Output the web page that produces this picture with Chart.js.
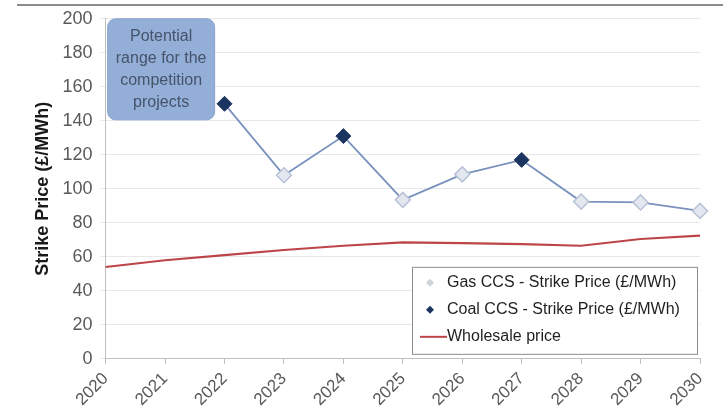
<!DOCTYPE html>
<html>
<head>
<meta charset="utf-8">
<script src="https://cdn.jsdelivr.net/npm/chart.js@4.4.1/dist/chart.umd.min.js"></script>
<style>
  html, body { margin: 0; padding: 0; background: #fff; }
  #wrap { position: relative; width: 723px; height: 415px; }
  #topRule { position: absolute; left: 17px; right: 0; top: 4px; border-top: 2px solid #8c8c8c; }
</style>
</head>
<body>
<div id="wrap">
  <div id="topRule"></div>
  <canvas id="strikeChart" width="723" height="415"></canvas>
</div>
<script>
// ---- data ----
const years = ["2020", "2021", "2022", "2023", "2024", "2025", "2026", "2027", "2028", "2029", "2030"];
const gasStrike = [null, null, null, 108, null, 93.5, 108.5, null, 92.5, 92, 87];
const coalStrike = [null, null, 150, null, 131, null, null, 117, null, null, null];
const wholesale = [54, 58, 61, 64, 66.5, 68.5, 68, 67.5, 66.5, 70.5, 72.5];
const yTicks = { min: 0, max: 200, step: 20 };
const noteLines = ["Potential", "range for the", "competition", "projects"];

// the blue line runs through every strike price, gas or coal
const strikePath = years.map((_, i) => gasStrike[i] ?? coalStrike[i]);

const FONT = "'Liberation Sans', Arial, sans-serif";

const noteBoxPlugin = {
  id: "noteBox",
  afterDatasetsDraw(chart) {
    const { ctx, chartArea } = chart;
    const x = chartArea.left + 2;
    const y = chartArea.top;
    const w = 107;
    const h = 101;
    ctx.save();
    ctx.fillStyle = "#93afd8";
    ctx.strokeStyle = "#86a3cf";
    ctx.beginPath();
    ctx.roundRect(x, y, w, h, 8);
    ctx.fill();
    ctx.stroke();
    ctx.fillStyle = "#46536a";
    ctx.font = "16px " + FONT;
    ctx.textAlign = "center";
    ctx.textBaseline = "middle";
    noteLines.forEach((line, i) => ctx.fillText(line, x + w / 2, y + 18 + i * 22));
    ctx.restore();
  }
};

const boxLegendPlugin = {
  id: "boxLegend",
  afterDraw(chart) {
    const { ctx, chartArea, data } = chart;
    const right = chartArea.right - 3;
    const bottom = chartArea.bottom - 5;
    const w = 285;
    const h = 87;
    const left = right - w;
    const top = bottom - h;
    ctx.save();
    ctx.fillStyle = "#fff";
    ctx.fillRect(left, top, w, h);
    ctx.strokeStyle = "#8c8c8c";
    ctx.lineWidth = 1;
    ctx.strokeRect(left + 0.5, top + 0.5, w, h);

    const items = data.datasets.filter(ds => !ds.hideInLegend);
    ctx.font = "16px " + FONT;
    ctx.textBaseline = "middle";
    items.forEach((ds, i) => {
      const cy = top + 16 + i * 27;
      const mx = left + 18;
      if (ds.showLine === false) {
        ctx.beginPath();
        ctx.moveTo(mx, cy - 4);
        ctx.lineTo(mx + 4, cy);
        ctx.lineTo(mx, cy + 4);
        ctx.lineTo(mx - 4, cy);
        ctx.closePath();
        ctx.fillStyle = ds.legendColor;
        ctx.fill();
      } else {
        ctx.strokeStyle = ds.borderColor;
        ctx.lineWidth = 2;
        ctx.beginPath();
        ctx.moveTo(left + 8, cy);
        ctx.lineTo(left + 35, cy);
        ctx.stroke();
      }
      ctx.fillStyle = "#1f1f1f";
      ctx.fillText(ds.label, left + 35, cy);
    });
    ctx.restore();
  }
};

const ctx = document.getElementById("strikeChart").getContext("2d");

new Chart(ctx, {
  type: "line",
  data: {
    labels: years,
    datasets: [
      {
        label: "Gas CCS - Strike Price (£/MWh)",
        data: gasStrike,
        showLine: false,
        pointStyle: "rectRot",
        pointRadius: 7.5,
        pointBackgroundColor: "#e3e7f0",
        pointBorderColor: "#b8c2d6",
        pointBorderWidth: 1.5,
        legendColor: "#cfd3da",
        order: 1
      },
      {
        label: "Coal CCS - Strike Price (£/MWh)",
        data: coalStrike,
        showLine: false,
        pointStyle: "rectRot",
        pointRadius: 7.5,
        pointBackgroundColor: "#1c3560",
        pointBorderColor: "#1c3560",
        pointBorderWidth: 1,
        legendColor: "#1c3560",
        order: 1
      },
      {
        label: "Wholesale price",
        data: wholesale,
        borderColor: "#bd4548",
        borderWidth: 2.2,
        pointRadius: 0,
        fill: false,
        tension: 0,
        order: 3
      },
      {
        label: "strike path",
        hideInLegend: true,
        data: strikePath,
        borderColor: "#7892bd",
        borderWidth: 1.8,
        pointRadius: 0,
        fill: false,
        tension: 0,
        spanGaps: true,
        order: 4
      }
    ]
  },
  options: {
    responsive: false,
    animation: false,
    layout: { padding: { top: 15, right: 23, left: 28, bottom: 0 } },
    plugins: {
      legend: { display: false },
      tooltip: { enabled: false }
    },
    scales: {
      x: {
        offset: false,
        grid: { drawOnChartArea: false, color: "#bfbfbf", tickLength: 5 },
        border: { color: "#bfbfbf" },
        ticks: {
          color: "#595959",
          font: { family: FONT, size: 17 },
          minRotation: 45,
          maxRotation: 45,
          padding: 5
        }
      },
      y: {
        min: yTicks.min,
        max: yTicks.max,
        grid: { color: "#e8e8e8", tickLength: 5 },
        border: { color: "#bfbfbf" },
        ticks: {
          stepSize: yTicks.step,
          color: "#595959",
          font: { family: FONT, size: 18 },
          padding: 8
        },
        title: {
          display: true,
          text: "Strike Price (£/MWh)",
          color: "#1a1a1a",
          font: { family: FONT, size: 18, weight: "bold" },
          padding: { top: 4, bottom: 1 }
        }
      }
    }
  },
  plugins: [noteBoxPlugin, boxLegendPlugin]
});
</script>
</body>
</html>
